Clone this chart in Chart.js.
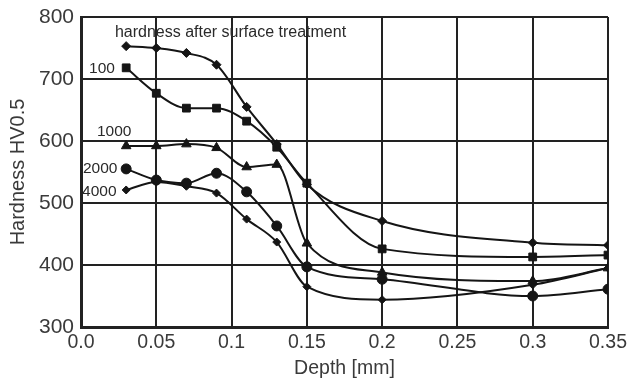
<!DOCTYPE html>
<html>
<head>
<meta charset="utf-8">
<script src="https://cdn.jsdelivr.net/npm/chart.js@4.4.1/dist/chart.umd.min.js"></script>
<style>
  html, body { margin: 0; padding: 0; background: #fff; }
  #wrap { width: 627px; height: 388px; }
</style>
</head>
<body>
<div id="wrap"><canvas id="hardnessChart"></canvas></div>
<script>
// depth positions (mm)
var depth = [0.03, 0.05, 0.07, 0.09, 0.11, 0.13, 0.15, 0.2, 0.3, 0.35];

// hardness HV0.5 per series
var afterTreatment = [753, 750, 742, 723, 655, 595, 530, 471, 436, 432];
var series100 = [718, 677, 653, 653, 632, 590, 532, 426, 413, 416];
var series1000 = [592, 592, 595, 589, 558, 562, 435, 388, 374, 395];
var series2000 = [555, 537, 532, 548, 518, 463, 397, 377, 350, 361];
var series4000 = [521, 534, 527, 516, 474, 437, 365, 344, 368, 395];

var xTickLabels = ['0.0', '0.05', '0.1', '0.15', '0.2', '0.25', '0.3', '0.35'];
var yTicks = [300, 400, 500, 600, 700, 800];

// text written next to the curves: [text, depth, hardness, align, font size]
var curveLabels = [
    ['hardness after surface treatment', 0.0225, 775, 'left', 16],
    ['100', 0.0225, 716, 'right', 15.5],
    ['1000', 0.0106, 615, 'left', 15.5],
    ['2000', 0.0013, 556, 'left', 15.5],
    ['4000', 0.0007, 519, 'left', 15.5]
];

function toPoints(values) {
    return values.map((v, i) => ({ x: depth[i], y: v }));
}

var seriesProps = [
    { label: 'hardness after surface treatment', data: afterTreatment, style: 'rectRot', radius: 4.5 },
    { label: '100', data: series100, style: 'rect', radius: 5.5 },
    { label: '1000', data: series1000, style: 'triangle', radius: 5.5 },
    { label: '2000', data: series2000, style: 'circle', radius: 5 },
    { label: '4000', data: series4000, style: 'rectRot', radius: 4 }
];

var datasets = seriesProps.map((s) => ({
    label: s.label,
    data: toPoints(s.data),
    borderColor: '#151515',
    backgroundColor: '#151515',
    borderWidth: 2,
    pointStyle: s.style,
    pointRadius: s.radius,
    pointBorderWidth: 1,
    cubicInterpolationMode: 'monotone',
    fill: false
}));

var fontFamily = '"Liberation Sans", Arial, sans-serif';

var labelPlugin = {
    id: 'curveLabels',
    afterDatasetsDraw(chart) {
        const ctx = chart.ctx;
        const xs = chart.scales.x, ys = chart.scales.y;
        ctx.save();
        ctx.fillStyle = '#2a2a2a';
        ctx.textBaseline = 'middle';
        curveLabels.forEach((l) => {
            ctx.font = l[4] + 'px ' + fontFamily;
            ctx.textAlign = l[3];
            ctx.fillText(l[0], xs.getPixelForValue(l[1]), ys.getPixelForValue(l[2]));
        });
        ctx.restore();
    }
};

new Chart(document.getElementById('hardnessChart'), {
    type: 'line',
    data: { datasets: datasets },
    plugins: [labelPlugin],
    options: {
        responsive: true,
        maintainAspectRatio: false,
        animation: false,
        layout: { padding: { top: 17, right: 19, left: 0, bottom: 0 } },
        scales: {
            x: {
                type: 'linear',
                min: 0,
                max: 0.35,
                afterBuildTicks: (scale) => {
                    scale.ticks = xTickLabels.map((t, i) => ({ value: i * 0.05 }));
                },
                afterFit: (scale) => {
                    scale.height = 61;
                    scale.paddingLeft = 0;
                    scale.paddingRight = 0;
                },
                ticks: {
                    color: '#3a3a3a',
                    font: { family: fontFamily, size: 19.5 },
                    padding: 4,
                    maxRotation: 0,
                    callback: (v, i) => xTickLabels[i]
                },
                grid: { color: '#222', lineWidth: 2, drawTicks: false },
                border: { color: '#222', width: 3 },
                title: {
                    display: true,
                    text: 'Depth [mm]',
                    color: '#3a3a3a',
                    font: { family: fontFamily, size: 19.5 },
                    padding: { top: 4, bottom: 8 }
                }
            },
            y: {
                min: 300,
                max: 800,
                afterBuildTicks: (scale) => {
                    scale.ticks = yTicks.map((v) => ({ value: v }));
                },
                afterFit: (scale) => {
                    scale.width = 81;
                    scale.paddingTop = 0;
                    scale.paddingBottom = 0;
                },
                ticks: {
                    color: '#3a3a3a',
                    font: { family: fontFamily, size: 21 },
                    padding: 7
                },
                grid: { color: '#222', lineWidth: 2, drawTicks: false },
                border: { color: '#222', width: 3 },
                title: {
                    display: true,
                    text: 'Hardness HV0.5',
                    color: '#3a3a3a',
                    font: { family: fontFamily, size: 20 },
                    padding: { top: 6, bottom: 2 }
                }
            }
        },
        plugins: {
            legend: { display: false },
            tooltip: { enabled: false }
        }
    }
});
</script>
</body>
</html>
